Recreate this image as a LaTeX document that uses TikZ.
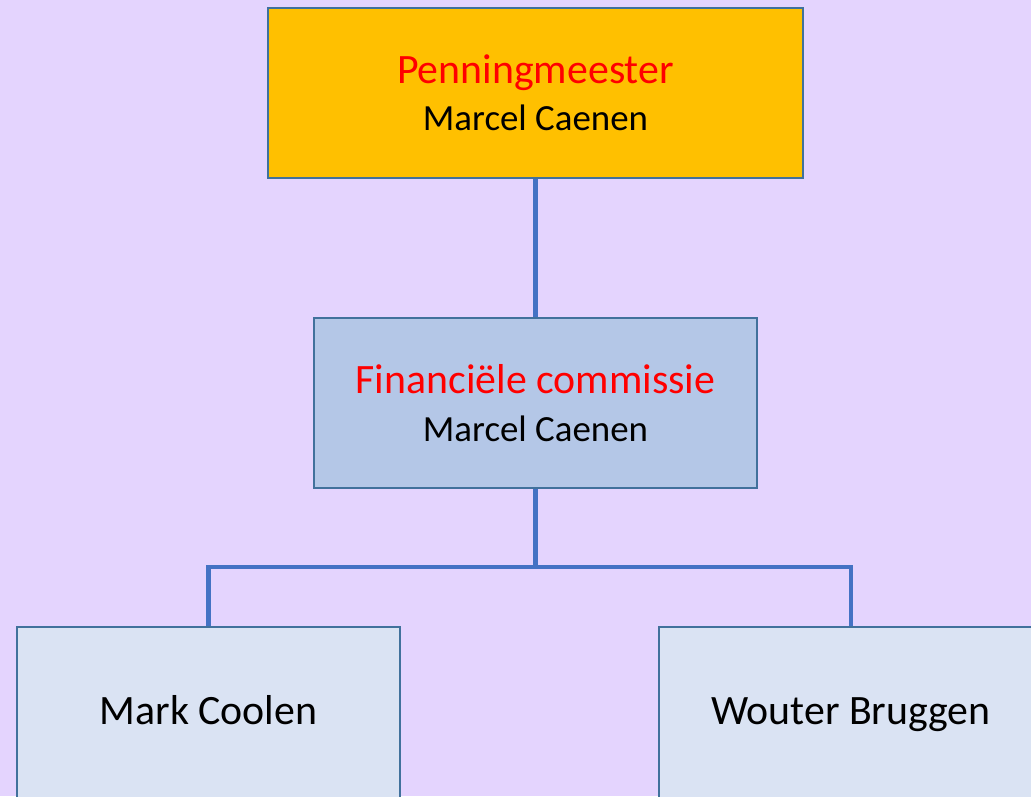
\documentclass[tikz,border=0pt]{standalone}
\usepackage{fontspec}
\setmainfont{Carlito}
\usepackage{tikz}
\usetikzlibrary{positioning,calc}
\definecolor{lavbg}{HTML}{E4D4FE}
\definecolor{boxline}{HTML}{41719C}
\definecolor{linkblue}{HTML}{4472C4}
\definecolor{chairfill}{HTML}{FFC000}
\definecolor{comfill}{HTML}{B4C7E7}
\definecolor{memfill}{HTML}{DAE3F3}
\definecolor{titlered}{HTML}{FF0000}

\begin{document}
\begin{tikzpicture}[x=0.02cm, y=-0.02cm]
      \tikzset{orgbox/.style = {draw=boxline,line width=1.1pt,rectangle,minimum height=170*0.02cm,
          inner sep=0pt,align=center,font=\fontsize{23.8}{26}\selectfont}}
      \tikzset{member/.style = {orgbox,fill=memfill,minimum height=180*0.02cm,text height=0.82em,text depth=0pt}}
      \tikzset{link/.style = {draw=linkblue,line width=2.6pt}}

      \fill[lavbg] (0,0) rectangle (1031,796);
      \useasboundingbox (0,0) rectangle (1031,796);
      \clip (0,0) rectangle (1031,796);

      \node[orgbox, fill=chairfill, minimum width=535*0.02cm] (pm) at (535.5,93)
        {\textcolor{titlered}{Penningmeester}\\[1pt]{\fontsize{21}{24}\selectfont Marcel Caenen}};
      \node[orgbox, fill=comfill, minimum width=443*0.02cm] (fc) at (535.5,403)
        {\textcolor{titlered}{Financiële commissie}\\[1pt]{\fontsize{21}{24}\selectfont Marcel Caenen}};
      \node[member, minimum width=383*0.02cm] (mc) at (208.5,717) {Mark Coolen};
      \node[member, minimum width=384*0.02cm] (wb) at (851,717) {Wouter Bruggen};

      \coordinate (split) at (535.5,567);
      \draw [link] (pm) -- (fc);
      \draw [link] (fc) -- (split);
      \draw [link] (mc.north) |- (split) -| (wb.north);
    \end{tikzpicture}
\end{document}
